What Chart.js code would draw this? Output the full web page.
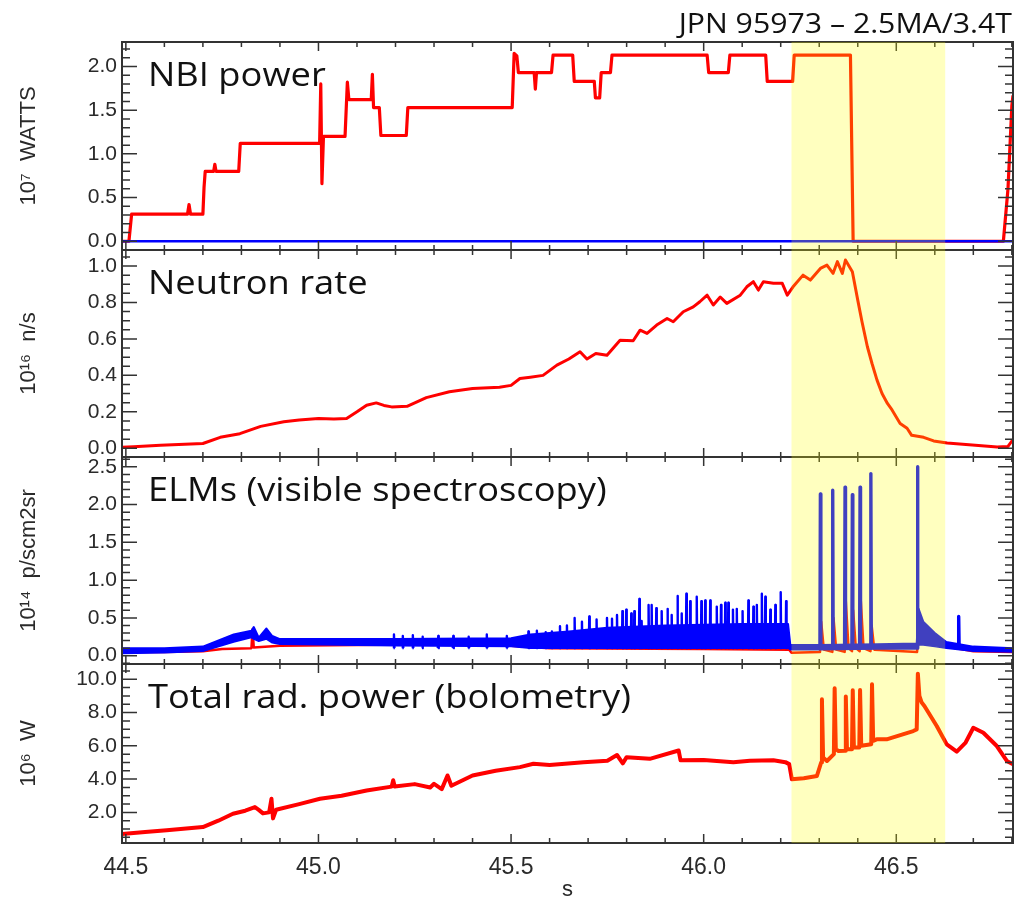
<!DOCTYPE html>
<html>
<head>
<meta charset="utf-8">
<title>JPN 95973</title>
<script src="https://cdn.jsdelivr.net/npm/chart.js@4.4.0/dist/chart.umd.min.js"></script>
<style>
  html, body { margin: 0; padding: 0; background: #fff; }
  #wrap { width: 1018px; height: 900px; }
</style>
</head>
<body>
<div id="wrap"><canvas id="grafico" width="1018" height="900"></canvas></div>
<script>
// time axis (s)
const xTicks = [44.5, 45.0, 45.5, 46.0, 46.5];
const xMin = 44.49;
const xMax = 46.803;
// highlighted time window
const bandStart = 46.228;
const bandEnd = 46.627;
const chartTitle = 'JPN 95973 \u2013 2.5MA/3.4T';

// NBI power (1e7 W)
const nbiT = [44.490, 44.508, 44.515, 44.660, 44.664, 44.668, 44.700, 44.703, 44.706, 44.728,
  44.731, 44.734, 44.793, 44.797, 45.003, 45.006, 45.009, 45.013, 45.069, 45.075,
  45.079, 45.137, 45.140, 45.143, 45.158, 45.162, 45.228, 45.232, 45.503, 45.508,
  45.515, 45.519, 45.560, 45.563, 45.566, 45.605, 45.609, 45.660, 45.664, 45.716,
  45.719, 45.730, 45.734, 45.758, 45.762, 46.009, 46.013, 46.064, 46.068, 46.161,
  46.165, 46.231, 46.235, 46.381, 46.388, 46.778, 46.790, 46.800, 46.803];
const nbiP = [0.00, 0.00, 0.31, 0.31, 0.42, 0.31, 0.31, 0.62, 0.80, 0.80,
  0.88, 0.80, 0.80, 1.12, 1.12, 1.80, 0.66, 1.20, 1.20, 1.82,
  1.62, 1.62, 1.91, 1.53, 1.53, 1.21, 1.21, 1.53, 1.53, 2.15,
  2.12, 1.93, 1.93, 1.74, 1.93, 1.93, 2.13, 2.13, 1.83, 1.83,
  1.64, 1.64, 1.93, 1.93, 2.13, 2.13, 1.93, 1.93, 2.13, 2.13,
  1.83, 1.83, 2.13, 2.13, 0.00, 0.00, 0.60, 1.55, 1.67];
const nbiBlueT = [44.490, 46.803];
const nbiBlueP = [0.0, 0.0];
const nbiTicks = [0.0, 0.5, 1.0, 1.5, 2.0];

// neutron rate (1e16 n/s)
const neutT = [44.490, 44.520, 44.590, 44.700, 44.745, 44.796, 44.850, 44.910, 44.950, 45.000,
  45.040, 45.073, 45.100, 45.125, 45.150, 45.170, 45.190, 45.230, 45.280, 45.340,
  45.400, 45.470, 45.500, 45.523, 45.550, 45.583, 45.619, 45.650, 45.679, 45.697,
  45.720, 45.749, 45.783, 45.817, 45.835, 45.853, 45.878, 45.905, 45.921, 45.947,
  45.973, 45.990, 46.009, 46.025, 46.043, 46.060, 46.095, 46.112, 46.129, 46.142,
  46.155, 46.181, 46.204, 46.217, 46.232, 46.258, 46.277, 46.303, 46.320, 46.336,
  46.347, 46.360, 46.368, 46.386, 46.400, 46.411, 46.425, 46.437, 46.450, 46.463,
  46.477, 46.489, 46.510, 46.528, 46.540, 46.571, 46.597, 46.632, 46.762, 46.790,
  46.803];
const neutV = [0.005, 0.008, 0.016, 0.026, 0.060, 0.080, 0.120, 0.145, 0.155, 0.163,
  0.160, 0.163, 0.200, 0.236, 0.249, 0.235, 0.227, 0.230, 0.278, 0.310,
  0.328, 0.335, 0.345, 0.383, 0.390, 0.400, 0.456, 0.490, 0.530, 0.490,
  0.520, 0.510, 0.593, 0.590, 0.648, 0.630, 0.676, 0.712, 0.694, 0.749,
  0.776, 0.804, 0.840, 0.786, 0.830, 0.795, 0.840, 0.886, 0.914, 0.868,
  0.914, 0.905, 0.905, 0.840, 0.886, 0.950, 0.923, 0.987, 1.005, 0.960,
  1.024, 0.960, 1.033, 0.969, 0.813, 0.694, 0.557, 0.465, 0.374, 0.300,
  0.246, 0.210, 0.136, 0.110, 0.071, 0.060, 0.040, 0.029, 0.007, 0.010,
  0.048];
const neutTicks = [0.0, 0.2, 0.4, 0.6, 0.8, 1.0];

// ELMs, visible spectroscopy (1e14 p/scm2sr)
const elmRedT = [44.490, 44.600, 44.700, 44.750, 44.826, 44.829, 44.832, 44.900, 45.100, 45.300,
  45.500, 45.600, 46.000, 46.222, 46.228, 46.302, 46.305, 46.312, 46.334, 46.337,
  46.344, 46.366, 46.369, 46.376, 46.385, 46.388, 46.395, 46.405, 46.408, 46.415,
  46.433, 46.436, 46.443, 46.554, 46.557, 46.570, 46.600, 46.630, 46.700, 46.803];
const elmRedV = [0.05, 0.05, 0.06, 0.09, 0.10, 0.35, 0.11, 0.13, 0.14, 0.15,
  0.13, 0.10, 0.09, 0.08, 0.04, 0.05, 0.45, 0.08, 0.05, 0.50,
  0.08, 0.05, 0.72, 0.10, 0.06, 0.60, 0.10, 0.06, 0.72, 0.10,
  0.06, 0.40, 0.08, 0.05, 0.30, 0.22, 0.17, 0.12, 0.06, 0.05];
// blue trace: dense part read as a lower / upper edge
const elmBandT = [44.490, 44.600, 44.700, 44.780, 44.826, 44.832, 44.845, 44.865, 44.880, 44.900,
  45.200, 45.500, 45.550, 45.650, 45.750, 45.900, 46.100, 46.219, 46.225, 46.300,
  46.450, 46.553, 46.558, 46.570, 46.600, 46.630, 46.700, 46.803];
const elmBandLo = [0.03, 0.04, 0.06, 0.18, 0.24, 0.22, 0.19, 0.22, 0.17, 0.15,
  0.13, 0.12, 0.10, 0.10, 0.10, 0.10, 0.10, 0.10, 0.08, 0.08,
  0.09, 0.09, 0.14, 0.14, 0.12, 0.10, 0.06, 0.05];
const elmBandHi = [0.10, 0.10, 0.12, 0.28, 0.33, 0.38, 0.24, 0.36, 0.26, 0.22,
  0.22, 0.23, 0.28, 0.32, 0.37, 0.40, 0.42, 0.42, 0.14, 0.14,
  0.15, 0.16, 0.62, 0.45, 0.30, 0.18, 0.12, 0.10];
// small ELM spikes before the window
const elmSmallT = [45.196, 45.219, 45.245, 45.270, 45.311, 45.350, 45.390, 45.437, 45.489, 45.545,
  45.567, 45.590, 45.606, 45.627, 45.645, 45.665, 45.684, 45.703, 45.722, 45.749,
  45.762, 45.775, 45.789, 45.799, 45.812, 45.820, 45.833, 45.839, 45.857, 45.865,
  45.877, 45.891, 45.906, 45.917, 45.932, 45.943, 45.955, 45.965, 45.982, 45.994,
  46.004, 46.017, 46.034, 46.045, 46.056, 46.064, 46.076, 46.086, 46.101, 46.116,
  46.129, 46.138, 46.151, 46.160, 46.173, 46.186, 46.200, 46.214];
const elmSmallV = [0.28, 0.26, 0.27, 0.25, 0.26, 0.26, 0.25, 0.28, 0.26, 0.32,
  0.33, 0.31, 0.32, 0.39, 0.40, 0.50, 0.45, 0.52, 0.48, 0.50,
  0.49, 0.54, 0.59, 0.61, 0.56, 0.59, 0.75, 0.46, 0.67, 0.67,
  0.63, 0.59, 0.62, 0.54, 0.79, 0.56, 0.82, 0.72, 0.78, 0.72,
  0.73, 0.73, 0.65, 0.67, 0.70, 0.70, 0.61, 0.62, 0.59, 0.73,
  0.65, 0.67, 0.82, 0.78, 0.61, 0.67, 0.84, 0.72];
// large ELMs
const elmBigT = [46.303, 46.335, 46.367, 46.386, 46.406, 46.434, 46.555, 46.662];
const elmBigV = [2.14, 2.19, 2.23, 2.13, 2.23, 2.41, 2.50, 0.52];
const elmBase = 0.10;
const elmTicks = [0.0, 0.5, 1.0, 1.5, 2.0, 2.5];

// total radiated power, bolometry (1e6 W)
const bolT = [44.490, 44.550, 44.606, 44.700, 44.740, 44.778, 44.810, 44.835, 44.845, 44.856,
  44.872, 44.878, 44.882, 44.890, 44.950, 45.004, 45.060, 45.125, 45.190, 45.194,
  45.198, 45.250, 45.290, 45.300, 45.320, 45.335, 45.345, 45.400, 45.460, 45.523,
  45.558, 45.600, 45.688, 45.750, 45.775, 45.790, 45.800, 45.860, 45.935, 45.940,
  46.000, 46.077, 46.120, 46.181, 46.212, 46.222, 46.229, 46.260, 46.294, 46.305,
  46.307, 46.310, 46.320, 46.338, 46.340, 46.343, 46.350, 46.367, 46.369, 46.372,
  46.385, 46.387, 46.390, 46.404, 46.406, 46.409, 46.435, 46.437, 46.440, 46.449,
  46.475, 46.544, 46.553, 46.556, 46.560, 46.566, 46.573, 46.605, 46.631, 46.657,
  46.680, 46.700, 46.726, 46.761, 46.787, 46.803];
const bolV = [0.70, 0.82, 0.92, 1.12, 1.50, 1.92, 2.10, 2.32, 2.15, 1.94,
  2.00, 2.82, 1.64, 2.16, 2.50, 2.82, 3.00, 3.32, 3.55, 3.93,
  3.55, 3.70, 3.50, 3.72, 3.40, 4.22, 3.60, 4.22, 4.50, 4.72,
  4.92, 4.85, 5.02, 5.10, 5.45, 4.95, 5.32, 5.22, 5.72, 5.13,
  5.15, 5.02, 5.10, 5.13, 5.02, 4.90, 3.99, 4.05, 4.19, 5.00,
  8.80, 5.30, 5.09, 5.50, 9.46, 5.80, 5.69, 5.70, 8.96, 5.80,
  5.80, 9.34, 5.90, 5.90, 9.36, 6.00, 6.10, 9.70, 6.30, 6.39,
  6.39, 6.89, 6.99, 10.34, 9.00, 8.60, 8.40, 7.19, 6.09, 5.65,
  6.20, 7.09, 6.79, 5.99, 5.09, 4.89];
const bolTicks = [2.0, 4.0, 6.0, 8.0, 10.0];

// panels, top to bottom
const panelIds = ['y1', 'y2', 'y3', 'y4'];
const panelNames = ['NBI power', 'Neutron rate', 'ELMs (visible spectroscopy)', 'Total rad. power (bolometry)'];
const panelUnits = ['10\u2077  WATTS', '10\u00b9\u2076  n/s', '10\u00b9\u2074  p/scm2sr', '10\u2076  W'];
const panelMin = [-0.10, -0.048, -0.11, 0.16];
const panelMax = [2.28, 1.088, 2.63, 10.92];
const panelTicks = [nbiTicks, neutTicks, elmTicks, bolTicks];
const majorStep = [0.5, 0.2, 0.5, 2.0];
const minorStep = [0.1, 0.05, 0.1, 0.5];
const panelWeight = [208, 207, 207, 179];
const xMajorStep = 0.5;
const xMinorStep = 0.1;

const ROJO = '#ff0000';
const AZUL = '#0000ff';
const MARCO = '#333333';
const TEXTO = '#2a2a2a';

function pares(ts, vs) {
  return ts.map((t, i) => ({ x: t, y: vs[i] }));
}

// each spike: up from the baseline and back, then a gap
function picos(ts, vs, base) {
  const pts = [];
  ts.forEach((t, i) => {
    pts.push({ x: t - 0.0012, y: base }, { x: t, y: vs[i] }, { x: t + 0.0012, y: base }, { x: t + 0.0013, y: null });
  });
  return pts;
}

function linea(data, yAxisID, color, width, order) {
  return {
    data: data,
    yAxisID: yAxisID,
    borderColor: color,
    borderWidth: width,
    pointRadius: 0,
    tension: 0,
    fill: false,
    borderJoinStyle: 'round',
    order: order
  };
}

function ejeY(k) {
  return {
    type: 'linear',
    position: 'left',
    stack: 'paneles',
    stackWeight: panelWeight[k],
    min: panelMin[k],
    max: panelMax[k],
    grid: { display: false, drawTicks: false },
    border: { display: false },
    afterBuildTicks: (scale) => {
      scale.ticks = panelTicks[k].map((v) => ({ value: v }));
    },
    afterFit: (scale) => {
      scale.width = 122;
    },
    ticks: {
      autoSkip: false,
      padding: 5,
      color: TEXTO,
      font: { family: 'Liberation Sans', size: 21 },
      callback: (v) => Number(v).toFixed(1)
    },
    title: {
      display: true,
      text: panelUnits[k],
      color: TEXTO,
      font: { family: 'Liberation Sans', size: 22 },
      padding: { top: 16, bottom: 0 }
    }
  };
}

// text slightly stretched sideways, as in the original slide
function textoAncho(c, texto, x, y, estirar) {
  c.save();
  c.translate(x, y);
  c.scale(estirar, 1);
  c.fillText(texto, 0, 0);
  c.restore();
}

// frames and inward tick marks, like the original plot
const marcoPlugin = {
  id: 'marco',
  afterDatasetsDraw(chart) {
    const c = chart.ctx;
    const area = chart.chartArea;
    const xs = chart.scales.x;
    c.save();
    c.strokeStyle = MARCO;
    panelIds.forEach((id, k) => {
      const ys = chart.scales[id];
      const top = ys.top;
      const bot = ys.bottom;
      c.lineWidth = 1.5;
      c.beginPath();
      for (let n = Math.ceil(ys.min / minorStep[k] - 1e-6); n * minorStep[k] <= ys.max + 1e-9; n++) {
        const v = n * minorStep[k];
        const r = v / majorStep[k];
        const len = Math.abs(r - Math.round(r)) < 1e-6 ? 15 : 8;
        const py = ys.getPixelForValue(v);
        c.moveTo(area.left, py);
        c.lineTo(area.left + len, py);
        c.moveTo(area.right, py);
        c.lineTo(area.right - len, py);
      }
      for (let n = Math.ceil(xs.min / xMinorStep - 1e-6); n * xMinorStep <= xs.max + 1e-9; n++) {
        const v = n * xMinorStep;
        const r = v / xMajorStep;
        const len = Math.abs(r - Math.round(r)) < 1e-6 ? 9 : 5;
        const px = xs.getPixelForValue(v);
        c.moveTo(px, top);
        c.lineTo(px, top + len);
        c.moveTo(px, bot);
        c.lineTo(px, bot - len);
      }
      c.stroke();
      c.lineWidth = 2;
      c.strokeRect(area.left, top, area.right - area.left, bot - top);
    });
    c.restore();
  },
  afterDraw(chart) {
    const c = chart.ctx;
    const area = chart.chartArea;
    const xs = chart.scales.x;
    c.save();
    c.fillStyle = '#111111';
    c.textBaseline = 'alphabetic';
    c.font = '33px "Open Sans"';
    c.textAlign = 'left';
    panelIds.forEach((id, k) => {
      textoAncho(c, panelNames[k], area.left + 26, chart.scales[id].top + 44, 1.1);
    });
    c.font = '28px "Open Sans"';
    c.textAlign = 'right';
    textoAncho(c, chartTitle, area.right - 1, area.top - 9, 1.08);
    // yellow window over everything
    const x0 = xs.getPixelForValue(bandStart);
    const x1 = xs.getPixelForValue(bandEnd);
    c.fillStyle = 'rgba(255, 255, 0, 0.25)';
    c.fillRect(x0, area.top, x1 - x0, area.bottom - area.top);
    c.restore();
  }
};

const scales = {
  x: {
    type: 'linear',
    position: 'bottom',
    min: xMin,
    max: xMax,
    grid: { display: false, drawTicks: false },
    border: { display: false },
    afterBuildTicks: (scale) => {
      scale.ticks = xTicks.map((v) => ({ value: v }));
    },
    afterFit: (scale) => {
      scale.height = 57;
    },
    ticks: {
      autoSkip: false,
      maxRotation: 0,
      padding: 11,
      color: TEXTO,
      font: { family: 'Liberation Sans', size: 23 },
      callback: (v) => Number(v).toFixed(1)
    },
    title: {
      display: true,
      text: 's',
      color: TEXTO,
      font: { family: 'Liberation Sans', size: 22, lineHeight: 0.9 },
      padding: { top: 0, bottom: 0 }
    }
  }
};
// stacked panels: last defined ends on top
scales.y4 = ejeY(3);
scales.y3 = ejeY(2);
scales.y2 = ejeY(1);
scales.y1 = ejeY(0);

const datasets = [
  linea(pares(nbiBlueT, nbiBlueP), 'y1', AZUL, 2.5, 1),
  linea(pares(nbiT, nbiP), 'y1', ROJO, 3.2, 2),
  linea(pares(neutT, neutV), 'y2', ROJO, 3, 2),
  linea(picos(elmSmallT, elmSmallV, elmBase), 'y3', AZUL, 2.4, 1),
  linea(picos(elmBigT, elmBigV, elmBase), 'y3', AZUL, 3.4, 1),
  linea(pares(elmBandT, elmBandLo), 'y3', AZUL, 1.5, 2),
  Object.assign(linea(pares(elmBandT, elmBandHi), 'y3', AZUL, 2, 2), { fill: '-1', backgroundColor: AZUL }),
  linea(pares(elmRedT, elmRedV), 'y3', ROJO, 2.5, 3),
  linea(pares(bolT, bolV), 'y4', ROJO, 4, 2)
];

new Chart(document.getElementById('grafico'), {
  type: 'line',
  data: { datasets: datasets },
  options: {
    responsive: false,
    devicePixelRatio: 1,
    animation: false,
    spanGaps: false,
    layout: { padding: { left: 0, right: 5, top: 42, bottom: 0 } },
    plugins: {
      legend: { display: false },
      tooltip: { enabled: false },
      title: { display: false }
    },
    scales: scales
  },
  plugins: [marcoPlugin]
});
</script>
</body>
</html>
